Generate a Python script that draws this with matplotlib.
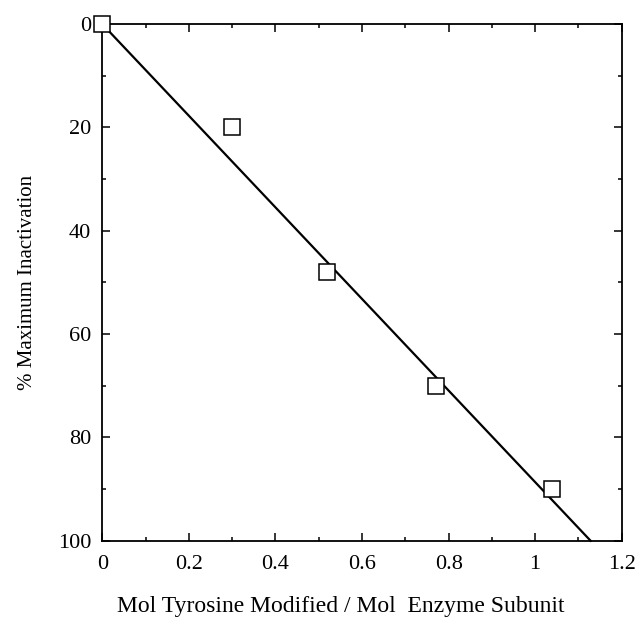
import numpy as np
from matplotlib import pyplot as plt
from matplotlib.ticker import MultipleLocator

# データ
mol_tyr = [0.0, 0.30, 0.52, 0.77, 1.04]
inact = [0, 20, 48, 70, 90]
# 回帰直線
fit_x = [0.0, 1.128]
fit_y = [0, 100]

plt.rcParams['font.family'] = ['Liberation Serif', 'DejaVu Serif']

fig = plt.figure(figsize=(6.39, 6.18), dpi=100)
ax = fig.add_axes([0.160, 0.125, 0.813, 0.836])

ax.plot(fit_x, fit_y, color='black', linewidth=1.6, clip_on=False, zorder=2)
ax.plot(mol_tyr, inact, linestyle='none', marker='s', markersize=12,
        markerfacecolor='white', markeredgecolor='black', markeredgewidth=1.1,
        clip_on=False, zorder=3)

ax.set_xlim(0, 1.2)
ax.set_ylim(100, 0)
ax.xaxis.set_major_locator(MultipleLocator(0.2))
ax.xaxis.set_minor_locator(MultipleLocator(0.1))
ax.yaxis.set_major_locator(MultipleLocator(20))
ax.yaxis.set_minor_locator(MultipleLocator(10))
ax.set_xticks([0, 0.2, 0.4, 0.6, 0.8, 1.0, 1.2])
ax.set_xticklabels(['0', '0.2', '0.4', '0.6', '0.8', '1', '1.2'])

ax.tick_params(which='both', direction='in', top=True, right=True,
               labelsize=16, width=1.1)
ax.tick_params(which='major', length=6, pad=8)
ax.tick_params(axis='x', which='major', pad=10)
ax.tick_params(which='minor', length=3)
for s in ax.spines.values():
    s.set_linewidth(1.3)

ax.set_xlabel('Mol Tyrosine Modified / Mol  Enzyme Subunit', fontsize=17)
ax.xaxis.set_label_coords(0.46, -0.106)
ax.set_ylabel('% Maximum Inactivation', fontsize=15, labelpad=15)

plt.savefig('out.png', dpi=100)
